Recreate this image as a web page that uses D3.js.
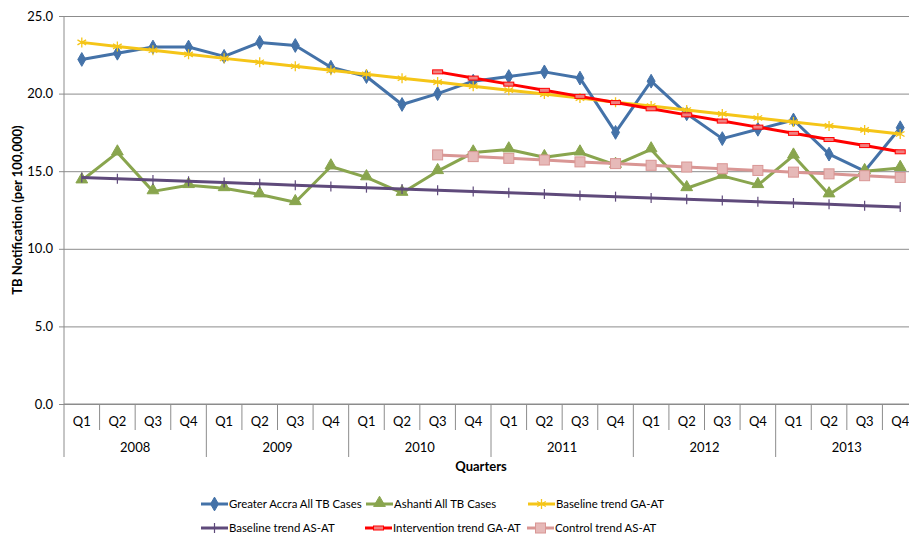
<!DOCTYPE html>
<html>
<head>
<meta charset="utf-8">
<script src="https://cdn.jsdelivr.net/npm/d3@7"></script>
<style>
  body { margin: 0; background: #fff; }
  svg { font-family: Lato, "Open Sans", sans-serif; }
</style>
</head>
<body>
<div id="chart"></div>
<script>
// quarters / years
var years = ["2008", "2009", "2010", "2011", "2012", "2013"];
var quarters = ["Q1", "Q2", "Q3", "Q4"];

// series values (per 100,000), one per quarter, 2008 Q1 .. 2013 Q4
var greaterAccra = [22.2, 22.6, 23.0, 23.0, 22.4, 23.3, 23.1, 21.7,
                    21.1, 19.3, 20.0, 20.8, 21.1, 21.4, 21.0, 17.5,
                    20.8, 18.7, 17.1, 17.7, 18.3, 16.1, 15.0, 17.8];
var ashanti = [14.4, 16.2, 13.7, 14.1, 13.9, 13.5, 13.0, 15.3,
               14.6, 13.6, 15.0, 16.2, 16.4, 15.9, 16.2, 15.4,
               16.4, 13.9, 14.7, 14.1, 16.0, 13.5, 15.0, 15.2];
var baselineGA = [23.30, 23.04, 22.79, 22.53, 22.27, 22.02, 21.76, 21.50,
                  21.25, 20.99, 20.74, 20.48, 20.22, 19.97, 19.71, 19.45,
                  19.20, 18.94, 18.69, 18.43, 18.17, 17.92, 17.66, 17.40];
var baselineAS = [14.60, 14.52, 14.43, 14.35, 14.27, 14.19, 14.10, 14.02,
                  13.94, 13.86, 13.77, 13.69, 13.61, 13.53, 13.44, 13.36,
                  13.28, 13.20, 13.11, 13.03, 12.95, 12.87, 12.78, 12.70];
// trends from 2010 Q3 onwards (null before)
var interventionGA = [null, null, null, null, null, null, null, null,
                      null, null, 21.40, 21.00, 20.61, 20.21, 19.82, 19.42,
                      19.02, 18.63, 18.23, 17.84, 17.44, 17.04, 16.65, 16.25];
var controlAS = [null, null, null, null, null, null, null, null,
                 null, null, 16.05, 15.94, 15.83, 15.72, 15.60, 15.49,
                 15.38, 15.27, 15.16, 15.05, 14.94, 14.83, 14.71, 14.60];

var yTicks = [0, 5, 10, 15, 20, 25];

var series = [
  {name: "Greater Accra All TB Cases", values: greaterAccra, color: "#4472A8", marker: "diamond"},
  {name: "Ashanti All TB Cases", values: ashanti, color: "#89A54E", marker: "triangle"},
  {name: "Baseline trend GA-AT", values: baselineGA, color: "#F5C518", marker: "asterisk"},
  {name: "Baseline trend AS-AT", values: baselineAS, color: "#5F4A7B", marker: "plus"},
  {name: "Intervention trend GA-AT", values: interventionGA, color: "#FF0000", marker: "dash"},
  {name: "Control trend AS-AT", values: controlAS, color: "#D99694", marker: "square"}
];

var W = 909, H = 536;
var margin = {top: 16, left: 64};
var plotRight = 918, plotBottom = 404;

var cats = [];
years.forEach(function(y) { quarters.forEach(function(q) { cats.push(y + "-" + q); }); });

var x = d3.scaleBand().domain(d3.range(cats.length)).range([margin.left, plotRight]);
var y = d3.scaleLinear().domain([0, 25]).range([plotBottom, margin.top]);
var bw = x.bandwidth();
function cx(i) { return x(i) + bw / 2; }

var svg = d3.select("#chart").append("svg")
    .attr("width", W)
    .attr("height", H);

// gridlines
svg.append("g")
    .attr("transform", "translate(" + margin.left + ",0)")
    .call(d3.axisLeft(y).tickValues(yTicks).tickSize(-(plotRight - margin.left)).tickFormat(""))
    .call(function(g) { g.select(".domain").remove(); })
    .selectAll("line").attr("stroke", "#8c8c8c");

// y axis
var yAxis = svg.append("g")
    .attr("transform", "translate(" + margin.left + ",0)")
    .call(d3.axisLeft(y).tickValues(yTicks).tickSize(5).tickPadding(6).tickFormat(d3.format(".1f")));
yAxis.select(".domain").attr("stroke", "#8c8c8c").attr("d", "M0," + margin.top + "V" + plotBottom);
yAxis.selectAll("line").attr("stroke", "#8c8c8c");
yAxis.selectAll("text").attr("font-size", 13).attr("fill", "#000")
    .attr("font-family", "Lato, sans-serif");

// x axis line
svg.append("line")
    .attr("x1", margin.left).attr("x2", plotRight)
    .attr("y1", plotBottom).attr("y2", plotBottom)
    .attr("stroke", "#8c8c8c");

// category separators
var sep = svg.append("g").attr("stroke", "#8c8c8c");
d3.range(cats.length + 1).forEach(function(i) {
  var xx = i < cats.length ? x(i) : plotRight;
  sep.append("line")
    .attr("x1", xx).attr("x2", xx)
    .attr("y1", plotBottom).attr("y2", i % 4 === 0 ? 457 : 430);
});

// quarter labels
svg.append("g").selectAll("text")
  .data(cats)
  .join("text")
    .attr("x", function(d, i) { return cx(i); })
    .attr("y", 426)
    .attr("text-anchor", "middle")
    .attr("font-size", 13)
    .text(function(d) { return d.split("-")[1]; });

// year labels
svg.append("g").selectAll("text")
  .data(years)
  .join("text")
    .attr("x", function(d, i) { return (x(i * 4) + (i * 4 + 4 < cats.length ? x(i * 4 + 4) : plotRight)) / 2; })
    .attr("y", 452)
    .attr("text-anchor", "middle")
    .attr("font-size", 13)
    .text(function(d) { return d; });

// axis titles
svg.append("text")
    .attr("x", 481).attr("y", 471)
    .attr("text-anchor", "middle")
    .attr("font-size", 13).attr("font-weight", "bold")
    .text("Quarters");

svg.append("text")
    .attr("transform", "translate(22,210) rotate(-90)")
    .attr("text-anchor", "middle")
    .attr("font-size", 13).attr("font-weight", "bold")
    .text("TB Notification (per 100,000)");

// marker drawing
function drawMarker(g, type, color) {
  if (type === "diamond") {
    g.append("path").attr("d", d3.symbol(d3.symbolDiamond, 55)())
      .attr("fill", color).attr("stroke", color);
  } else if (type === "triangle") {
    g.append("path").attr("d", d3.symbol(d3.symbolTriangle, 60)())
      .attr("transform", "translate(0,-1)")
      .attr("fill", color).attr("stroke", color);
  } else if (type === "asterisk") {
    g.append("path").attr("d", d3.symbol(d3.symbolAsterisk, 70)())
      .attr("fill", "none").attr("stroke", color).attr("stroke-width", 1.3);
  } else if (type === "plus") {
    g.append("line").attr("x1", 0).attr("x2", 0).attr("y1", -5).attr("y2", 5)
      .attr("stroke", color).attr("stroke-width", 1.2);
  } else if (type === "dash") {
    g.append("rect").attr("x", -5).attr("y", -2).attr("width", 10).attr("height", 4)
      .attr("fill", "#F08080").attr("stroke", color).attr("stroke-width", 1);
  } else if (type === "square") {
    g.append("rect").attr("x", -5).attr("y", -5).attr("width", 10).attr("height", 10)
      .attr("fill", "#E6B9B8").attr("stroke", "#D99694").attr("stroke-width", 1);
  }
}

var line = d3.line()
    .defined(function(d) { return d != null; })
    .x(function(d, i) { return cx(i); })
    .y(function(d) { return y(d); });

series.forEach(function(s) {
  var g = svg.append("g");
  g.append("path")
      .datum(s.values)
      .attr("fill", "none")
      .attr("stroke", s.color)
      .attr("stroke-width", 3)
      .attr("stroke-linejoin", "round")
      .attr("d", line);
  s.values.forEach(function(v, i) {
    if (v == null) return;
    var m = g.append("g").attr("transform", "translate(" + cx(i) + "," + y(v) + ")");
    drawMarker(m, s.marker, s.color);
  });
});

// legend
var legendPos = [
  {x: 201, y: 504}, {x: 366, y: 504}, {x: 528, y: 504},
  {x: 201, y: 528}, {x: 365, y: 528}, {x: 527, y: 528}
];
series.forEach(function(s, i) {
  var p = legendPos[i];
  var lg = svg.append("g").attr("transform", "translate(" + p.x + "," + p.y + ")");
  lg.append("line").attr("x1", 0).attr("x2", 27).attr("y1", 0).attr("y2", 0)
    .attr("stroke", s.color).attr("stroke-width", 3);
  var m = lg.append("g").attr("transform", "translate(13.5,0)");
  drawMarker(m, s.marker, s.color);
  lg.append("text").attr("x", 28).attr("y", 4)
    .attr("font-size", 11.4)
    .text(s.name);
});
</script>
</body>
</html>
